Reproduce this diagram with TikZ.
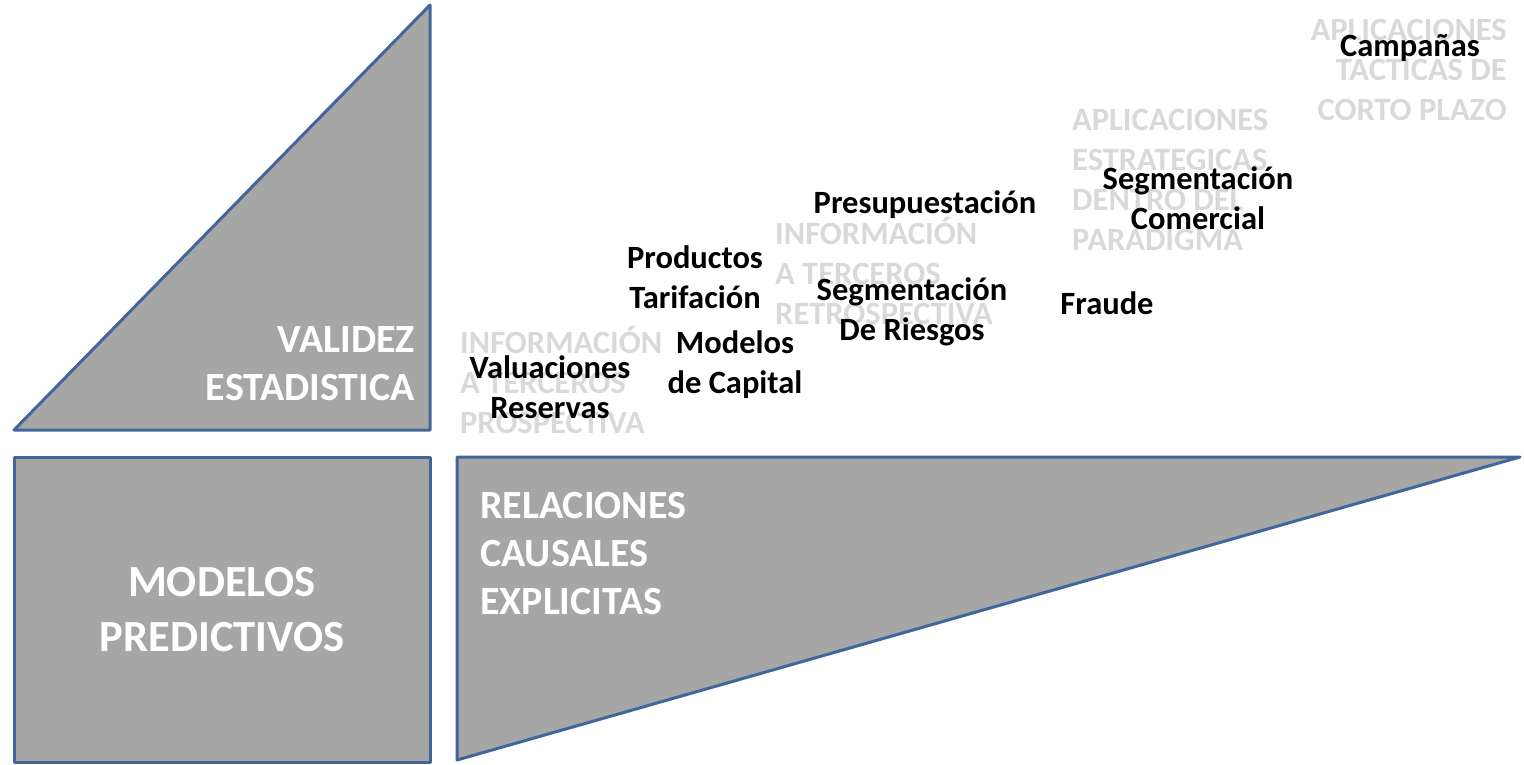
\documentclass[tikz,border=0pt]{standalone}
\usepackage{fontspec}
\setmainfont{Carlito}
\usepackage{xcolor}
\usepackage{tikz}
\definecolor{fillgray}{HTML}{A6A6A6}
\definecolor{edgeblue}{HTML}{41679A}
\definecolor{hintgray}{HTML}{D9D9D9}

\begin{document}
\begin{tikzpicture}[x=1pt,y=-1pt,
  block/.style={fill=fillgray,draw=edgeblue,line width=3pt,line join=round},
  boxlabel/.style={text=white,font=\fontsize{40}{48}\selectfont\bfseries,inner sep=0pt},
  hint/.style={text=hintgray,font=\fontsize{32.5}{40}\selectfont\bfseries,inner sep=0pt},
  item/.style={text=black,font=\fontsize{32.5}{40}\selectfont\bfseries,inner sep=0pt,align=center}]
\useasboundingbox (0,0) rectangle (1524,764);

% shapes
\draw [block] (14,430) -- (430,5) -- (430,430) -- cycle;
\draw [block] (14,457) rectangle (430,762);
\draw [block] (457,457) -- (1520,457) -- (457,760) -- cycle;

% labels in the shapes
\node [boxlabel,align=right,anchor=east] (validez) at (415,364) {VALIDEZ\\ESTADISTICA};
\node [boxlabel,align=center,font=\fontsize{44.5}{55}\selectfont\bfseries] (modelos) at (222,610) {MODELOS\\PREDICTIVOS};
\node [boxlabel,align=left,anchor=west] (relaciones) at (480,554) {RELACIONES\\CAUSALES\\EXPLICITAS};

% grey levels
\node [hint,align=left,anchor=west] (prosp) at (460,380) {INFORMACIÓN\\A TERCEROS\\PROSPECTIVA};
\node [hint,align=left,anchor=west] (retro) at (775,271) {INFORMACIÓN\\A TERCEROS\\RETROSPECTIVA};
\node [hint,align=left,anchor=west] (estrat) at (1072,180) {APLICACIONES\\ESTRATEGICAS\\DENTRO DEL\\PARADIGMA};
\node [hint,align=right,anchor=east] (tact) at (1507,70) {APLICACIONES\\TACTICAS DE\\CORTO PLAZO};

% applications
\node [item] (valuaciones) at (550,387) {Valuaciones\\Reservas};
\node [item] (productos) at (695,277) {Productos\\Tarifación};
\node [item] (capital) at (735,365) {Modelos\\de Capital};
\node [item] (presupuesto) at (925,205) {Presupuestación};
\node [item] (riesgos) at (912,312) {Segmentación\\De Riesgos};
\node [item] (fraude) at (1107,303) {Fraude};
\node [item] (comercial) at (1198,198) {Segmentación\\Comercial};
\node [item] (campanas) at (1410,48) {Campañas};
\end{tikzpicture}
\end{document}
